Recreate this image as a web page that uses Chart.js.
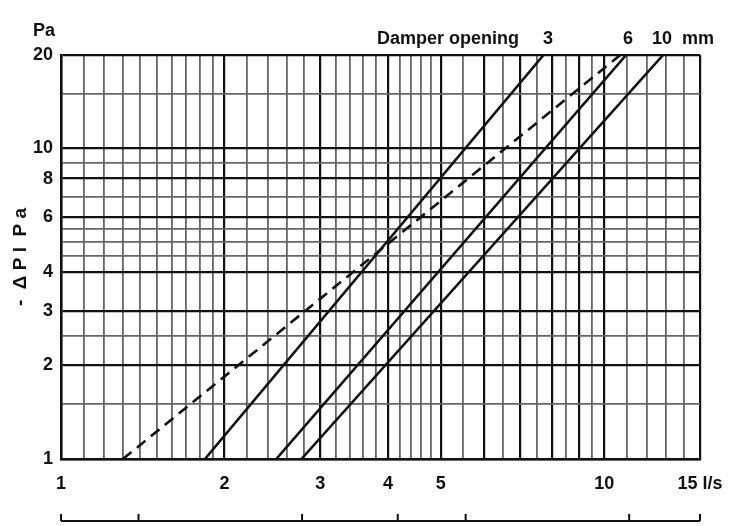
<!DOCTYPE html>
<html>
<head>
<meta charset="utf-8">
<script src="https://cdn.jsdelivr.net/npm/chart.js@4.4.1/dist/chart.umd.min.js"></script>
<style>
  body { margin: 0; background: #fff; }
  #wrap { width: 753px; height: 526px; }
</style>
</head>
<body>
<div id="wrap"><canvas id="chart"></canvas></div>
<script>
// flow l/s (x) for pressure drop Pa (y)
const yEnds = [1, 20];
const flow3mm = [1.84, 7.73];
const flow6mm = [2.49, 10.97];
const flow10mm = [2.77, 12.83];
const flowDashed = [1.30, 10.7];

// grid and tick labels
const xGrid = [1, 1.1, 1.2, 1.3, 1.4, 1.5, 1.6, 1.7, 1.8, 1.9,
  2, 2.2, 2.4, 2.6, 2.8, 3, 3.2, 3.4, 3.6, 3.8, 4, 4.2, 4.4, 4.6, 4.8,
  5, 5.5, 6, 6.5, 7, 7.5, 8, 8.5, 9, 9.5, 10, 11, 12, 13, 14, 15];
const xHeavy = [1, 2, 3, 4, 5, 6, 7, 8, 9, 10, 15];
const xLabels = [1, 2, 3, 4, 5, 10, 15];
const yGrid = [1, 1.5, 2, 2.5, 3, 4, 4.5, 5, 5.5, 6, 7, 8, 9, 10, 15, 20];
const yHeavy = [1, 2, 3, 4, 6, 8, 10, 20];
const yLabels = [1, 2, 3, 4, 6, 8, 10, 20];
// second scale at the bottom, m3/h
const rulerTicks = [3.6, 5, 10, 15, 20, 40, 54];

const pts = (xs) => xs.map((x, i) => ({ x: x, y: yEnds[i] }));
const font = { family: 'Liberation Sans, Arial, sans-serif', size: 18, weight: 'bold' };
const ink = '#111';

const extras = {
  id: 'extras',
  afterDraw(chart) {
    const ctx = chart.ctx;
    const xs = chart.scales.x;
    ctx.save();
    ctx.fillStyle = ink;
    ctx.font = 'bold 18px Liberation Sans, Arial, sans-serif';
    ctx.textBaseline = 'middle';
    ctx.textAlign = 'right';
    ctx.fillText('Pa', 55, 31);
    ctx.textAlign = 'left';
    ctx.fillText('Damper opening', 377, 39);
    ctx.textAlign = 'center';
    ctx.fillText('3', 548, 39);
    ctx.fillText('6', 628, 39);
    ctx.textAlign = 'left';
    ctx.fillText('10  mm', 652, 39);

    // ruler
    ctx.strokeStyle = ink;
    ctx.lineWidth = 2;
    const left = xs.getPixelForValue(rulerTicks[0] / 3.6);
    const right = xs.getPixelForValue(rulerTicks[rulerTicks.length - 1] / 3.6);
    ctx.beginPath();
    ctx.moveTo(left, 521);
    ctx.lineTo(right, 521);
    rulerTicks.forEach(t => {
      const p = xs.getPixelForValue(t / 3.6);
      ctx.moveTo(p, 521);
      ctx.lineTo(p, 514);
    });
    ctx.stroke();
    ctx.restore();
  }
};

const lineSet = (data, dash) => ({
  data: data,
  showLine: true,
  borderColor: ink,
  borderWidth: 2.6,
  borderDash: dash,
  pointRadius: 0,
  fill: false
});

new Chart(document.getElementById('chart'), {
  type: 'scatter',
  data: {
    datasets: [
      lineSet(pts(flowDashed), [11, 7]),
      lineSet(pts(flow3mm), []),
      lineSet(pts(flow6mm), []),
      lineSet(pts(flow10mm), [])
    ]
  },
  options: {
    responsive: true,
    maintainAspectRatio: false,
    animation: false,
    layout: { padding: { top: 55, right: 53, left: 0, bottom: 0 } },
    plugins: { legend: { display: false }, tooltip: { enabled: false } },
    scales: {
      x: {
        type: 'logarithmic',
        min: 1,
        max: 15,
        afterBuildTicks: (s) => { s.ticks = xGrid.map(v => ({ value: v })); },
        afterFit: (s) => { s.height = 67; },
        grid: {
          drawTicks: false,
          color: (c) => xHeavy.includes(c.tick && c.tick.value) ? ink : '#666',
          lineWidth: (c) => xHeavy.includes(c.tick && c.tick.value) ? 2.2 : 1.8
        },
        border: { color: ink, width: 2.5 },
        ticks: {
          autoSkip: false,
          maxRotation: 0,
          padding: 14,
          color: ink,
          font: font,
          callback: (v) => xLabels.includes(v) ? (v === 15 ? '15 l/s' : String(v)) : ''
        }
      },
      y: {
        type: 'logarithmic',
        min: 1,
        max: 20,
        afterBuildTicks: (s) => { s.ticks = yGrid.map(v => ({ value: v })); },
        afterFit: (s) => { s.width = 61; },
        grid: {
          drawTicks: false,
          color: (c) => yHeavy.includes(c.tick && c.tick.value) ? ink : '#666',
          lineWidth: (c) => yHeavy.includes(c.tick && c.tick.value) ? 2.2 : 1.8
        },
        border: { color: ink, width: 2.5 },
        title: {
          display: true,
          text: '-  Δ P l  P a',
          color: ink,
          font: { family: 'Liberation Sans, Arial, sans-serif', size: 19, weight: 'bold' },
          padding: { top: 9, bottom: 0 }
        },
        ticks: {
          autoSkip: false,
          padding: 8,
          color: ink,
          font: font,
          callback: (v) => yLabels.includes(v) ? String(v) : ''
        }
      }
    }
  },
  plugins: [extras]
});
</script>
</body>
</html>
